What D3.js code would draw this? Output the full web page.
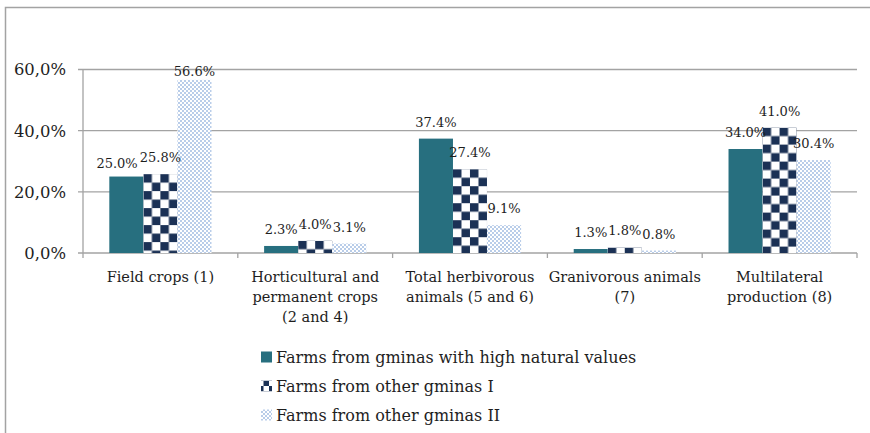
<!DOCTYPE html>
<html>
<head>
<meta charset="utf-8">
<script src="https://cdn.jsdelivr.net/npm/d3@7"></script>
<style>
  body { margin: 0; background: #fff; }
  svg text { font-family: "DejaVu Serif", serif; fill: #1e1e1e; }
</style>
</head>
<body>
<div id="chart"></div>
<script>
const categories = [
    "Field crops (1)",
    "Horticultural and\npermanent crops\n(2 and 4)",
    "Total herbivorous\nanimals (5 and 6)",
    "Granivorous animals\n(7)",
    "Multilateral\nproduction (8)"
];
const seriesNames = [
    "Farms from gminas with high natural values",
    "Farms from other gminas I",
    "Farms from other gminas II"
];
const highNatural = [25.0, 2.3, 37.4, 1.3, 34.0];
const otherI = [25.8, 4.0, 27.4, 1.8, 41.0];
const otherII = [56.6, 3.1, 9.1, 0.8, 30.4];
const yTicks = [0, 20, 40, 60];

const width = 870, height = 433;
const plot = { left: 83, right: 857, top: 69.5, bottom: 253 };

const svg = d3.select("#chart").append("svg")
    .attr("width", width)
    .attr("height", height);

const defs = svg.append("defs");

// frame around the chart
svg.append("rect")
    .attr("x", 5.5).attr("y", 7.5)
    .attr("width", 900).attr("height", 500)
    .attr("fill", "none")
    .attr("stroke", "#a3a3a3")
    .attr("stroke-width", 1.5);

const x0 = d3.scaleBand()
    .domain(d3.range(categories.length))
    .range([plot.left, plot.right]);

const pad = x0.bandwidth() * 0.17;
const x1 = d3.scaleBand()
    .domain(d3.range(seriesNames.length))
    .range([pad, x0.bandwidth() - pad]);

const y = d3.scaleLinear()
    .domain([0, 60])
    .range([plot.bottom, plot.top]);

// light dotted pattern
const light = defs.append("pattern")
    .attr("id", "light")
    .attr("patternUnits", "userSpaceOnUse")
    .attr("width", 4).attr("height", 4);
light.append("rect").attr("width", 4).attr("height", 4).attr("fill", "#fff");
light.append("rect").attr("width", 2).attr("height", 2).attr("fill", "#b9cde9");
light.append("rect").attr("x", 2).attr("y", 2).attr("width", 2).attr("height", 2).attr("fill", "#b9cde9");

function checker(id, px, py, cell) {
    const p = defs.append("pattern")
        .attr("id", id)
        .attr("patternUnits", "userSpaceOnUse")
        .attr("x", px).attr("y", py)
        .attr("width", cell * 2).attr("height", cell * 2);
    p.append("rect").attr("width", cell * 2).attr("height", cell * 2).attr("fill", "#fff");
    p.append("rect").attr("width", cell).attr("height", cell).attr("fill", "#1b3155");
    p.append("rect").attr("x", cell).attr("y", cell).attr("width", cell).attr("height", cell).attr("fill", "#1b3155");
}

const series = [highNatural, otherI, otherII];
const fills = [
    () => "#276f7f",
    (d) => `url(#chk${d.c})`,
    () => "url(#light)"
];

// gridlines
svg.append("g")
    .selectAll("line")
    .data(yTicks)
    .join("line")
    .attr("x1", plot.left - 5).attr("x2", plot.right)
    .attr("y1", d => y(d)).attr("y2", d => y(d))
    .attr("stroke", "#a3a3a3")
    .attr("stroke-width", 1.3);

// y axis line
svg.append("line")
    .attr("x1", plot.left).attr("x2", plot.left)
    .attr("y1", y(60)).attr("y2", y(0))
    .attr("stroke", "#a3a3a3")
    .attr("stroke-width", 1.3);

// category boundary ticks
svg.append("g")
    .selectAll("line")
    .data(d3.range(categories.length + 1))
    .join("line")
    .attr("x1", d => plot.left + d * x0.step())
    .attr("x2", d => plot.left + d * x0.step())
    .attr("y1", y(0)).attr("y2", y(0) + 5)
    .attr("stroke", "#a3a3a3")
    .attr("stroke-width", 1.3);

// y tick labels
svg.append("g")
    .selectAll("text")
    .data(yTicks)
    .join("text")
    .attr("x", 66)
    .attr("y", d => y(d))
    .attr("dy", "0.36em")
    .attr("text-anchor", "end")
    .attr("font-size", 16.4)
    .text(d => d3.format(".1f")(d).replace(".", ",") + "%");

// bars
const barData = [];
series.forEach((vals, s) => vals.forEach((v, c) => barData.push({ s, c, v })));

barData.filter(d => d.s === 1).forEach(d => {
    checker("chk" + d.c, x0(d.c) + x1(1), y(d.v), 8.5);
});

svg.append("g")
    .selectAll("rect")
    .data(barData)
    .join("rect")
    .attr("x", d => x0(d.c) + x1(d.s))
    .attr("y", d => y(d.v))
    .attr("width", x1.bandwidth())
    .attr("height", d => y(0) - y(d.v))
    .attr("fill", d => fills[d.s](d));

// value labels
const labels = svg.append("g")
    .selectAll("text")
    .data(barData)
    .join("text")
    .attr("x", d => x0(d.c) + x1(d.s) + x1.bandwidth() / 2)
    .attr("y", d => Math.max(y(d.v) - 12, 76))
    .attr("text-anchor", "middle")
    .attr("font-size", 13)
    .text(d => d.v.toFixed(1) + "%");

// nudge overlapping labels left
labels.each(function (d) {
    if (d.s === 2) return;
    const next = labels.filter(e => e.c === d.c && e.s === d.s + 1).node();
    const a = this.getBBox(), b = next.getBBox();
    const overlapY = a.y < b.y + b.height - 4 && b.y < a.y + a.height - 4;
    const overlapX = a.x + a.width - b.x;
    if (overlapY && overlapX > 0) {
        d3.select(this).attr("x", +d3.select(this).attr("x") - overlapX - 2)
            .attr("y", +d3.select(this).attr("y") + 3);
    }
});

// category labels
svg.append("g")
    .selectAll("text")
    .data(categories)
    .join("text")
    .attr("x", (d, i) => x0(i) + x0.bandwidth() / 2)
    .attr("y", 282)
    .attr("text-anchor", "middle")
    .attr("font-size", 14.5)
    .each(function (d) {
        d3.select(this).selectAll("tspan")
            .data(d.split("\n"))
            .join("tspan")
            .attr("x", d3.select(this).attr("x"))
            .attr("dy", (t, k) => k === 0 ? 0 : 20)
            .text(t => t);
    });

// legend
checker("chkLegend", 261, 0, 5.5);
const legendFills = ["#276f7f", "url(#chkLegend)", "url(#light)"];
const legend = svg.append("g")
    .selectAll("g")
    .data(seriesNames)
    .join("g")
    .attr("transform", (d, i) => `translate(261, ${357 + i * 29})`);

legend.append("rect")
    .attr("x", 0).attr("y", -5.5)
    .attr("width", 11).attr("height", 11)
    .attr("fill", (d, i) => legendFills[i]);

legend.append("text")
    .attr("x", 15)
    .attr("y", 5.5)
    .attr("font-size", 16)
    .text(d => d);
</script>
</body>
</html>
